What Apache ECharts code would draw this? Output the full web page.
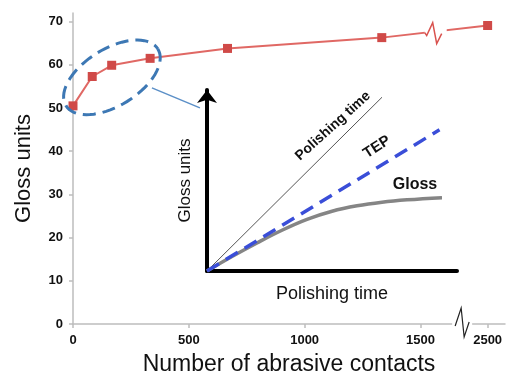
<!DOCTYPE html>
<html><head><meta charset="utf-8">
<script src="https://cdn.jsdelivr.net/npm/echarts@6/dist/echarts.min.js"></script>
<style>html,body{margin:0;padding:0;background:#fff}#c{width:509px;height:381px}</style>
</head><body><div id="c"></div>
<script>
// ---- main chart data ----
const contacts = [0, 83, 167, 333, 667, 1333, 2500];
const glossUnits = [50.5, 57.3, 59.9, 61.5, 63.8, 66.3, 69.1];
const xTickLabels = [0, 500, 1000, 1500, 2500];
const yTickLabels = [0, 10, 20, 30, 40, 50, 60, 70];
// ---- inset schematic data (arbitrary units) ----
const insetPolishX = [0, 7.0];
const insetPolishY = [0, 9.6];
const insetTepX = [0, 9.3];
const insetTepY = [0, 7.8];
const insetGlossX = [0, 1, 2, 3, 4, 5, 6, 7, 8, 9.4];
const insetGlossY = [0, 0.8, 1.55, 2.25, 2.85, 3.3, 3.6, 3.8, 3.93, 4.05];
// annotation anchors (data coordinates)
const ellipseCenter = [168, 57.1];
const axisBreakAt = [1680, 0];

const FONT = 'Liberation Sans';
const pairs = (xs, ys) => xs.map((x, i) => [x, ys[i]]);
const axisGray = '#bdbdbd';
const plain = v => String(v);

const chart = echarts.init(document.getElementById('c'), null, {renderer: 'canvas'});
const option = {
  animation: false,
  backgroundColor: '#fff',
  grid: [
    {left: 73, right: 4, top: 13, bottom: 57, outerBoundsMode: 'none'},
    {left: 207, top: 90, width: 250, height: 181, outerBoundsMode: 'none'}
  ],
  xAxis: [
    {
      type: 'value', gridIndex: 0, min: 0, max: 2575,
      breaks: [{start: 1700, end: 2420, gap: 10}],
      breakArea: {show: false},
      axisLine: {show: true, lineStyle: {color: axisGray, width: 1.5}},
      axisTick: {show: true, length: 4, customValues: xTickLabels, lineStyle: {color: axisGray, width: 1.5}},
      axisLabel: {customValues: xTickLabels, formatter: plain, margin: 10, fontSize: 13, fontWeight: 'bold', color: '#111', fontFamily: FONT},
      splitLine: {show: false},
      name: 'Number of abrasive contacts', nameLocation: 'middle', nameGap: 29,
      nameTextStyle: {fontSize: 23, color: '#111', fontFamily: FONT}
    },
    {
      type: 'value', gridIndex: 1, min: 0, max: 10,
      axisLine: {show: true, lineStyle: {color: '#000', width: 4}},
      axisTick: {show: false}, axisLabel: {show: false}, splitLine: {show: false},
      name: 'Polishing time', nameLocation: 'middle', nameGap: 14,
      nameTextStyle: {fontSize: 18, color: '#111', fontFamily: FONT}
    }
  ],
  yAxis: [
    {
      type: 'value', gridIndex: 0, min: 0, max: 72,
      axisLine: {show: true, lineStyle: {color: axisGray, width: 1.5}},
      axisTick: {show: true, length: 4, customValues: yTickLabels, lineStyle: {color: axisGray, width: 1.5}},
      axisLabel: {customValues: yTickLabels, formatter: plain, margin: 10, fontSize: 13, fontWeight: 'bold', color: '#111', fontFamily: FONT},
      splitLine: {show: false},
      name: 'Gloss units', nameLocation: 'middle', nameGap: 38, nameRotate: 90,
      nameTextStyle: {fontSize: 22, color: '#111', fontFamily: FONT}
    },
    {
      type: 'value', gridIndex: 1, min: 0, max: 10,
      axisLine: {show: true, symbol: ['none', 'arrow'], symbolSize: [15, 13], lineStyle: {color: '#000', width: 4}},
      axisTick: {show: false}, axisLabel: {show: false}, splitLine: {show: false},
      name: 'Gloss units', nameLocation: 'middle', nameGap: 13, nameRotate: 90,
      nameTextStyle: {fontSize: 17, color: '#111', fontFamily: FONT}
    }
  ],
  series: [
    {
      type: 'line', xAxisIndex: 0, yAxisIndex: 0,
      data: pairs(contacts, glossUnits),
      symbol: 'rect', symbolSize: 9,
      itemStyle: {color: '#d04a48'},
      lineStyle: {color: '#e06864', width: 2},
      z: 3
    },
    // line break zigzag on the series
    {
      type: 'custom', xAxisIndex: 0, yAxisIndex: 0, z: 4, clip: false, silent: true,
      data: [[contacts[5], glossUnits[5]]],
      encode: {x: 0, y: 1},
      renderItem: function (params, api) {
        const a = api.coord([contacts[5], glossUnits[5]]);
        const b = api.coord([contacts[6], glossUnits[6]]);
        const cx = (a[0] + b[0]) / 2, cy = (a[1] + b[1]) / 2;
        return {type: 'group', children: [
          {type: 'rect', shape: {x: cx - 10, y: cy - 5, width: 22, height: 10}, style: {fill: '#fff'}},
          {type: 'polyline', shape: {points: [[cx - 10, cy + 1], [cx - 8, cy + 4], [cx - 2, cy - 9], [cx + 2, cy + 12], [cx + 7, cy + 2]]},
            style: {stroke: '#d9534f', lineWidth: 1.5, fill: 'none'}}
        ]};
      }
    },
    // axis break zigzag
    {
      type: 'custom', xAxisIndex: 0, yAxisIndex: 0, z: 4, clip: false, silent: true,
      data: [axisBreakAt], encode: {x: 0, y: 1},
      renderItem: function (params, api) {
        const p = api.coord([api.value(0), api.value(1)]);
        const cx = p[0], cy = p[1];
        return {type: 'group', children: [
          {type: 'rect', shape: {x: cx - 10, y: cy - 3, width: 20, height: 6}, style: {fill: '#fff'}},
          {type: 'polyline', shape: {points: [[cx - 7, cy + 2], [cx - 1, cy - 16], [cx + 2, cy + 13], [cx + 7, cy - 2]]},
            style: {stroke: '#222', lineWidth: 1.2, fill: 'none'}}
        ]};
      }
    },
    // dashed ellipse + leader line
    {
      type: 'custom', xAxisIndex: 0, yAxisIndex: 0, z: 5, clip: false, silent: true,
      data: [ellipseCenter], encode: {x: 0, y: 1},
      renderItem: function (params, api) {
        const p = api.coord([api.value(0), api.value(1)]);
        const cx = p[0], cy = p[1];
        const A = 54, B = 28.5, th = -31.7 * Math.PI / 180;
        const pts = [];
        for (let i = 0; i <= 72; i++) {
          const t = i / 72 * Math.PI * 2;
          pts.push([cx + A * Math.cos(t) * Math.cos(th) - B * Math.sin(t) * Math.sin(th),
                    cy + A * Math.cos(t) * Math.sin(th) + B * Math.sin(t) * Math.cos(th)]);
        }
        return {type: 'group', children: [
          {type: 'polyline', shape: {points: pts}, style: {stroke: '#3d78b4', lineWidth: 3, lineDash: [13, 7], fill: 'none'}},
          {type: 'line', shape: {x1: cx + 40, y1: cy + 10.5, x2: cx + 88, y2: cy + 30.5}, style: {stroke: '#5b8fc7', lineWidth: 1.5}}
        ]};
      }
    },
    // inset schematic
    {
      type: 'line', xAxisIndex: 1, yAxisIndex: 1, data: pairs(insetPolishX, insetPolishY),
      symbol: 'none', lineStyle: {color: '#555', width: 1}, z: 3
    },
    {
      type: 'line', xAxisIndex: 1, yAxisIndex: 1, data: pairs(insetTepX, insetTepY),
      symbol: 'none', lineStyle: {color: '#3a4ed8', width: 3.5, type: [14, 8]}, z: 3
    },
    {
      type: 'line', xAxisIndex: 1, yAxisIndex: 1, data: pairs(insetGlossX, insetGlossY),
      symbol: 'none', smooth: 0.4, lineStyle: {color: '#858585', width: 3.5}, z: 2
    }
  ],
  graphic: [
    {type: 'text', x: 333, y: 126, rotation: 42 * Math.PI / 180,
      style: {text: 'Polishing time', font: 'bold 14px "Liberation Sans"', fill: '#111', align: 'center', verticalAlign: 'middle'}},
    {type: 'text', x: 377, y: 147, rotation: 33 * Math.PI / 180,
      style: {text: 'TEP', font: 'bold 15px "Liberation Sans"', fill: '#111', align: 'center', verticalAlign: 'middle'}},
    {type: 'text', x: 415, y: 185,
      style: {text: 'Gloss', font: 'bold 16px "Liberation Sans"', fill: '#111', align: 'center', verticalAlign: 'middle'}}
  ]
};
chart.setOption(option);
</script>
</body></html>
